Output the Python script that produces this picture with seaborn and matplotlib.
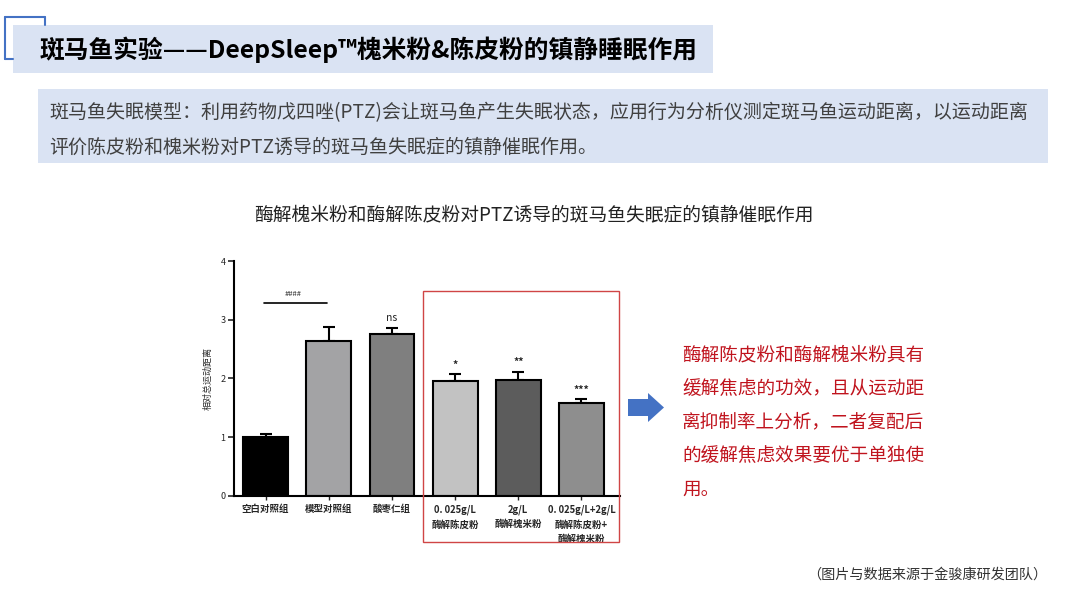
import numpy as np
import pandas as pd
import seaborn as sns
import matplotlib.pyplot as plt
from matplotlib.lines import Line2D
from matplotlib.patches import Rectangle, Polygon

# Dados
groups = ["空白对照组", "模型对照组", "酸枣仁组", "0. 025g/L\n酶解陈皮粉", "2g/L\n酶解槐米粉",
          "0. 025g/L+2g/L\n酶解陈皮粉+\n酶解槐米粉"]
means = [1.00, 2.64, 2.75, 1.95, 1.98, 1.585]
errors = [0.05, 0.24, 0.11, 0.12, 0.13, 0.055]
marks = ["", "", "ns", "*", "**", "***"]
bar_colors = ["#000000", "#a2a2a6", "#7f7f7f", "#c2c2c2", "#5c5c5c", "#8e8e8e"]
yticks = [0, 1, 2, 3, 4]

W, H = 1080, 601
sns.set_theme(style="white")
plt.rcParams['font.family'] = ['Noto Sans CJK SC', 'DejaVu Sans']

fig = plt.figure(figsize=(W / 100, H / 100), dpi=100)


def px(x, y):
    """Converte pixels (origem no topo) para fração da figura."""
    return x / W, 1 - y / H


def band(x0, y0, x1, y1, color):
    fx, fy = px(x0, y1)
    fig.add_artist(Rectangle((fx, fy), (x1 - x0) / W, (y1 - y0) / H, transform=fig.transFigure,
                             facecolor=color, edgecolor='none', zorder=0))


# Cabeçalho
blue = "#4472c4"
for (xa, ya), (xb, yb) in [((5, 17), (45, 17)), ((45, 17), (45, 25)), ((5, 17), (5, 59)), ((5, 59), (13, 59))]:
    a, b = px(xa, ya), px(xb, yb)
    fig.add_artist(Line2D([a[0], b[0]], [a[1], b[1]], color=blue, lw=1.5, transform=fig.transFigure))
band(13, 25, 713, 73, "#dae3f3")
band(38, 89, 1048, 163, "#dae3f3")
fig.text(*px(40, 50), "斑马鱼实验——DeepSleep™槐米粉&陈皮粉的镇静睡眠作用", fontsize=17.8,
         fontweight='bold', color='black', va='center', ha='left')
fig.text(*px(49, 113), "斑马鱼失眠模型：利用药物戊四唑(PTZ)会让斑马鱼产生失眠状态，应用行为分析仪测定斑马鱼运动距离，以运动距离",
         fontsize=13.7, color='#404040', va='center', ha='left')
fig.text(*px(49, 147), "评价陈皮粉和槐米粉对PTZ诱导的斑马鱼失眠症的镇静催眠作用。",
         fontsize=13.7, color='#404040', va='center', ha='left')
fig.text(*px(534, 216), "酶解槐米粉和酶解陈皮粉对PTZ诱导的斑马鱼失眠症的镇静催眠作用",
         fontsize=13.5, color='#222222', va='center', ha='center')

# Gráfico de barras
ax = fig.add_axes([234 / W, 105.3 / H, 386 / W, 234.7 / H])
df = pd.DataFrame({'group': groups, 'mean': means})
sns.barplot(data=df, x='group', y='mean', hue='group', palette=bar_colors, width=0.71,
            edgecolor='black', linewidth=1.5, legend=False, ax=ax, zorder=2)
x = np.arange(len(groups))
ax.errorbar(x, means, yerr=[np.zeros(len(means)), errors], fmt='none', ecolor='black',
            elinewidth=1.5, capsize=4.5, capthick=1.5, zorder=1)
for xi, m, e, s in zip(x, means, errors, marks):
    if s:
        ax.text(xi, m + e + 0.08, s, ha='center', va='bottom', fontsize=7.5,
                fontweight='normal' if s == 'ns' else 'bold')
ax.plot([-0.02, 0.98], [3.29, 3.29], color='black', lw=1.2)
ax.text(0.43, 3.37, "####", ha='center', va='bottom', fontsize=5.5)

ax.set_xlim(-0.5, 5.61)
ax.set_ylim(0, 4)
ax.set_yticks(yticks)
ax.set_xlabel("")
ax.set_ylabel("相对总运动距离", fontsize=6.5, labelpad=6)
ax.tick_params(axis='y', labelsize=6.5, length=4, width=1.2, direction='out', left=True, pad=2)
ax.tick_params(axis='x', labelsize=6.8, length=3, width=1.0, direction='out', bottom=True, pad=3)
for lab in ax.get_xticklabels():
    lab.set_fontweight('bold')
    lab.set_linespacing(1.6)
sns.despine(ax=ax)
for sp in ['left', 'bottom']:
    ax.spines[sp].set_linewidth(1.5)
    ax.spines[sp].set_color('black')

# Caixa vermelha
fx, fy = px(423, 542)
fig.add_artist(Rectangle((fx, fy), 196 / W, 251 / H, transform=fig.transFigure,
                         facecolor='none', edgecolor='#d04545', lw=1.0))

# Seta azul
arrow = [(628, 399), (648, 399), (648, 393), (664, 407.5), (648, 422), (648, 416), (628, 416)]
fig.add_artist(Polygon([px(a, b) for a, b in arrow], closed=True, transform=fig.transFigure,
                       facecolor=blue, edgecolor='none'))

# Texto vermelho
red_lines = ["酶解陈皮粉和酶解槐米粉具有", "缓解焦虑的功效，且从运动距", "离抑制率上分析，二者复配后",
             "的缓解焦虑效果要优于单独使", "用。"]
for i, line in enumerate(red_lines):
    fig.text(*px(682, 355 + i * 33.8), line, fontsize=13.4, color='#c0141e', va='center', ha='left')

fig.text(*px(807, 575), "（图片与数据来源于金骏康研发团队）", fontsize=10.2, color='#333333',
         va='center', ha='left')

fig.savefig("out.png", dpi=100)
plt.close('all')
